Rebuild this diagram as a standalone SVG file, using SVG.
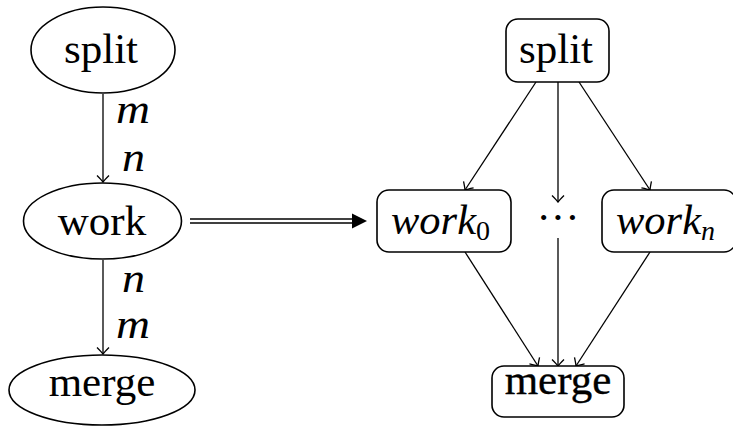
<svg xmlns="http://www.w3.org/2000/svg" width="733" height="426" viewBox="0 0 733 426">
<defs>
<marker id="arr" viewBox="-8 -8 10 16" markerWidth="10" markerHeight="16" refX="0" refY="0" orient="auto" markerUnits="userSpaceOnUse">
<path d="M-6.5,-6 Q-2,-1.5 0,0 Q-2,1.5 -6.5,6" fill="none" stroke="#000" stroke-width="1.3"/>
</marker>
</defs>
<style>
.shape{fill:#fff;stroke:#000;stroke-width:1.6}
.t{font-family:"Liberation Serif","Times New Roman",serif;font-size:43px;fill:#000;text-anchor:middle}
.mi{font-family:"Liberation Serif","Times New Roman",serif;font-size:42px;font-style:italic;fill:#000}
.sub{font-size:28px}
.edge{stroke:#000;stroke-width:1.3;fill:none;marker-end:url(#arr)}
</style>
<rect width="733" height="426" fill="#fff"/>
<g id="connectors">
<line class="edge" x1="103" y1="94" x2="103" y2="182"/>
<line class="edge" x1="103" y1="260" x2="103" y2="354"/>
<line x1="190" y1="219" x2="354" y2="219" stroke="#000" stroke-width="1.3"/>
<line x1="190" y1="223" x2="354" y2="223" stroke="#000" stroke-width="1.3"/>
<polygon points="352,213.5 367,221 352,228.5" fill="#000"/>
<line class="edge" x1="536" y1="82" x2="465" y2="190"/>
<line class="edge" x1="558" y1="82" x2="558" y2="202"/>
<line class="edge" x1="579" y1="82" x2="650" y2="190"/>
<line class="edge" x1="465" y1="252" x2="538" y2="366"/>
<line class="edge" x1="558" y1="238" x2="558" y2="366"/>
<line class="edge" x1="650" y1="252" x2="576" y2="366"/>
<text class="mi" x="116" y="123" textLength="34" lengthAdjust="spacingAndGlyphs">m</text>
<text class="mi" x="122" y="171" textLength="23" lengthAdjust="spacingAndGlyphs">n</text>
<text class="mi" x="122" y="292" textLength="23" lengthAdjust="spacingAndGlyphs">n</text>
<text class="mi" x="116" y="338" textLength="34" lengthAdjust="spacingAndGlyphs">m</text>
</g>
<g id="split-left">
<ellipse class="shape" cx="103" cy="50" rx="72" ry="43"/>
<text class="t" x="101" y="63">split</text>
</g>
<g id="work-left">
<ellipse class="shape" cx="102.5" cy="221" rx="79" ry="38"/>
<text class="t" x="102" y="235">work</text>
</g>
<g id="merge-left">
<ellipse class="shape" cx="102" cy="390" rx="93" ry="35"/>
<text class="t" x="102" y="396">merge</text>
</g>
<g id="split-right">
<rect class="shape" x="506" y="19" width="103" height="63" rx="12"/>
<text class="t" x="556" y="63">split</text>
</g>
<g id="work0">
<rect class="shape" x="377" y="190" width="134" height="62" rx="12"/>
<text class="mi" x="391" y="234"><tspan textLength="85" lengthAdjust="spacingAndGlyphs">work</tspan><tspan class="sub" dy="6" style="font-style:normal">0</tspan></text>
</g>
<g id="dots">
<text class="t" x="558" y="232">···</text>
</g>
<g id="workn">
<rect class="shape" x="602" y="190" width="134" height="62" rx="12"/>
<text class="mi" x="616" y="234"><tspan textLength="85" lengthAdjust="spacingAndGlyphs">work</tspan><tspan class="sub" dy="6">n</tspan></text>
</g>
<g id="merge-right">
<rect class="shape" x="492" y="366" width="132" height="51" rx="12" stroke-width="2"/>
<text class="t" x="558" y="394" stroke="#000" stroke-width="0.35">merge</text>
</g>
</svg>
